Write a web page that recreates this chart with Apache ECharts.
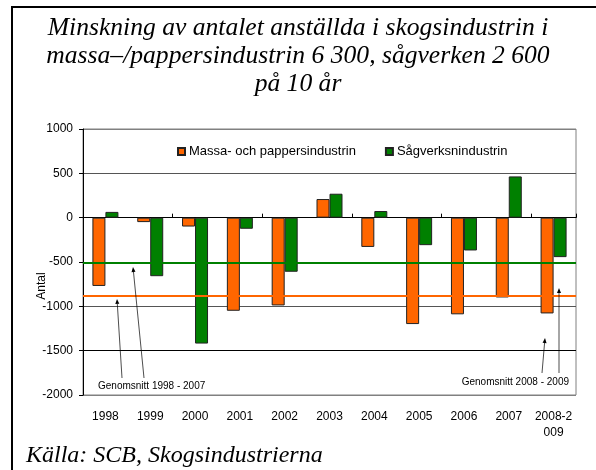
<!DOCTYPE html>
<html>
<head>
<meta charset="utf-8">
<script src="https://cdn.jsdelivr.net/npm/echarts@6/dist/echarts.min.js"></script>
<style>html,body{margin:0;padding:0;background:#fff;}#c{width:596px;height:470px;}</style>
</head>
<body>
<div id="c"></div>
<script>
var categories = ['1998','1999','2000','2001','2002','2003','2004','2005','2006','2007','2008-2\n009'];
var massa = [-770,-50,-100,-1050,-990,210,-330,-1200,-1090,-900,-1080];
var sag = [65,-660,-1420,-125,-610,270,75,-310,-370,465,-445];
var massaAvg = -875;
var sagAvg = -510;
var seriesNames = ['Massa- och pappersindustrin','Sågverksnindustrin'];
var titleText = 'Minskning av antalet anställda i skogsindustrin i\nmassa–/pappersindustrin 6 300, sågverken 2 600\npå 10 år';
var sourceText = 'Källa: SCB, Skogsindustrierna';
var yName = 'Antal';
var note1 = 'Genomsnitt 1998 - 2007';
var note2 = 'Genomsnitt 2008 - 2009';

function arrow(x1,y1,x2,y2){
  var dx=x2-x1, dy=y2-y1, L=Math.sqrt(dx*dx+dy*dy), ux=dx/L, uy=dy/L;
  var h=5, w=2;
  var bx=x2-ux*h, by=y2-uy*h;
  return [
    {type:'line',shape:{x1:x1,y1:y1,x2:bx,y2:by},style:{stroke:'#000',lineWidth:0.7},z:100},
    {type:'polygon',shape:{points:[[x2,y2],[bx-uy*w,by+ux*w],[bx+uy*w,by-ux*w]]},style:{fill:'#000'},z:100}
  ];
}

var chart = echarts.init(document.getElementById('c'));
var graphics = [
  {type:'line',shape:{x1:11,y1:7,x2:596,y2:7},style:{stroke:'#000',lineWidth:2},z:100},
  {type:'line',shape:{x1:12,y1:7,x2:12,y2:470},style:{stroke:'#000',lineWidth:2},z:100},
  {type:'text',left:26,top:444,style:{text:sourceText,font:'italic 24px "Liberation Serif"',fill:'#000'},z:100},
  {type:'text',x:42,y:286,rotation:Math.PI/2,style:{text:yName,font:'12px "Liberation Sans"',fill:'#000',textAlign:'center',textVerticalAlign:'middle'},z:100},
  {type:'text',x:98,y:386,style:{text:note1,font:'10px "Liberation Sans"',fill:'#000',textAlign:'left',textVerticalAlign:'middle'},z:100},
  {type:'text',x:569,y:382,style:{text:note2,font:'10px "Liberation Sans"',fill:'#000',textAlign:'right',textVerticalAlign:'middle'},z:100}
];
graphics = graphics.concat(arrow(122,378,117,299), arrow(144,378,133,267), arrow(542,373,545,338), arrow(559,373,559,288));

chart.setOption({
  animation:false,
  backgroundColor:'#fff',
  title:{text:titleText,left:'center',top:9,textStyle:{fontFamily:'Liberation Serif',fontStyle:'italic',fontWeight:'normal',fontSize:25.6,lineHeight:28,color:'#000'}},
  legend:{top:140,left:172,itemWidth:7,itemHeight:7,itemGap:29,icon:'rect',
    textStyle:{fontFamily:'Liberation Sans',fontSize:13,color:'#000',padding:[0,0,0,-1]},
    data:seriesNames},
  grid:{left:83,top:129,right:20,bottom:75,show:true,borderColor:'#808080',borderWidth:1},
  xAxis:[
    {type:'category',data:categories,position:'bottom',axisLine:{show:false,onZero:false},axisTick:{show:false},
      axisLabel:{fontFamily:'Liberation Sans',fontSize:12,color:'#000',margin:14,interval:0,lineHeight:16}},
    {type:'category',data:categories,position:'bottom',axisLine:{show:true,onZero:true,onZeroAxisIndex:0,lineStyle:{color:'#000',width:1}},
      axisTick:{show:true,inside:true,length:4,lineStyle:{color:'#000'}},axisLabel:{show:false}}
  ],
  yAxis:{type:'value',min:-2000,max:1000,interval:500,
    axisLine:{show:true,lineStyle:{color:'#000'}},axisTick:{show:true,length:4,lineStyle:{color:'#000'}},
    axisLabel:{fontFamily:'Liberation Sans',fontSize:12,color:'#000',margin:10,formatter:function(v){return String(v);}},
    splitLine:{show:true,lineStyle:{color:['#808080','#000','#555','#555','#000','#555','#808080'],width:1}}},
  series:[
    {name:seriesNames[0],type:'bar',data:massa,barWidth:13,barGap:'0%',
      itemStyle:{color:'#FF6600',borderColor:'#222',borderWidth:1},
      markLine:{symbol:'none',silent:true,label:{show:false},lineStyle:{color:'#FF6600',width:2,type:'solid'},data:[{yAxis:massaAvg}]}},
    {name:seriesNames[1],type:'bar',data:sag,barWidth:13,barGap:'0%',
      itemStyle:{color:'#008000',borderColor:'#222',borderWidth:1},
      markLine:{symbol:'none',silent:true,label:{show:false},lineStyle:{color:'#008000',width:2,type:'solid'},data:[{yAxis:sagAvg}]}}
  ],
  graphic:graphics
});
</script>
</body>
</html>
